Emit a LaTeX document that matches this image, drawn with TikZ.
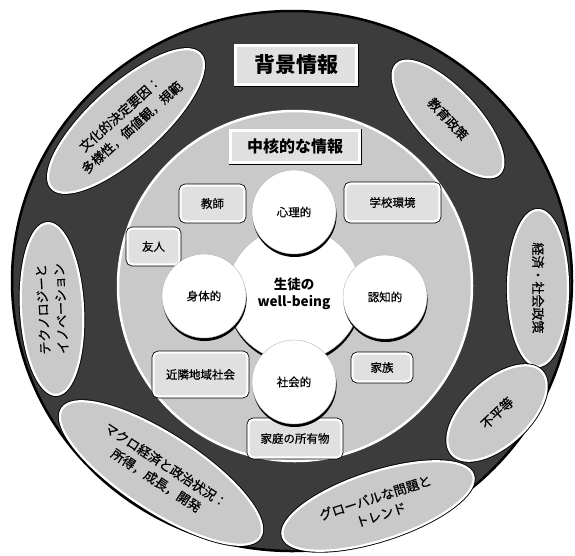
\documentclass[tikz,border=0pt]{standalone}
\usepackage{fontspec}
\setmainfont{Noto Sans CJK JP}
\newfontfamily\medfont{Noto Sans CJK JP}[FakeBold=0.6]
\usetikzlibrary{shapes.geometric,shadows}
\definecolor{ringdark}{HTML}{3C3C3C}
\definecolor{lightg}{HTML}{C9C9C9}
\definecolor{boxg}{HTML}{E0E0E0}
\begin{document}
\begin{tikzpicture}[x=1pt,y=-1pt,
  oval/.style={ellipse, fill=lightg, draw=white, line width=2.2pt,
    preaction={draw=black, line width=4pt}, inner sep=0pt, align=center,
    font=\medfont\fontsize{13}{18}\selectfont},
  labelbox/.style={rectangle, rounded corners=5pt, fill=boxg, draw=white, line width=2.2pt,
    preaction={draw=black, line width=3.8pt}, inner sep=0pt, align=center,
    font=\medfont\fontsize{11.5}{14}\selectfont},
  titlebox/.style={rectangle, fill=boxg, draw=white, line width=2.4pt,
    preaction={draw=black, line width=4pt}, inner sep=0pt, align=center,
    font=\bfseries},
  ball/.style={circle, fill=white, draw=gray!60, line width=0.4pt, inner sep=0pt,
    drop shadow={shadow xshift=0.6pt, shadow yshift=-3pt, fill=black, opacity=1},
    font=\medfont\fontsize{11.5}{14}\selectfont, align=center},
]
\useasboundingbox[fill=white] (0,0) rectangle (575,555);

% rings
\draw[fill=ringdark, draw=black, line width=2.5pt] (292,281) ellipse [x radius=280, y radius=270];
\draw[fill=lightg, draw=white, line width=2.5pt] (295,286) ellipse [x radius=177, y radius=175];

% outer ellipses
\node[oval, minimum width=200pt, minimum height=70pt, rotate=42] (cult) at (126,121)
  {文化的決定要因：\\多様性，価値観，規範};
\node[oval, minimum width=150pt, minimum height=58pt, rotate=-47] (edu) at (448,119) {教育政策};
\node[oval, minimum width=156pt, minimum height=60pt, rotate=-90] (econ) at (538,288) {経済・社会政策};
\node[oval, minimum width=122pt, minimum height=64pt, rotate=43] (ineq) at (497,413) {不平等};
\node[oval, minimum width=200pt, minimum height=68pt, rotate=18] (glob) at (378,506)
  {グローバルな問題と\\トレンド};
\node[oval, minimum width=236pt, minimum height=76pt, rotate=-33] (macro) at (161,473)
  {マクロ経済と政治状況：\\所得，成長，開発};
\node[oval, minimum width=172pt, minimum height=62pt, rotate=93] (tech) at (52,309)
  {テクノロジーと\\イノベーション};

% titles
\node[titlebox, minimum width=121pt, minimum height=39pt, font=\bfseries\fontsize{21}{24}\selectfont]
  (bg) at (296,65) {背景情報};
\node[titlebox, minimum width=129pt, minimum height=32pt, font=\bfseries\fontsize{16}{19}\selectfont]
  (core) at (295,146.5) {中核的な情報};

% boxes
\node[labelbox, minimum width=64pt, minimum height=36pt] (teach) at (212.5,203.5) {教師};
\node[labelbox, minimum width=52pt, minimum height=36pt] (friend) at (153.5,246.5) {友人};
\node[labelbox, minimum width=94pt, minimum height=38pt] (school) at (392.5,202.5) {学校環境};
\node[labelbox, minimum width=94pt, minimum height=44pt] (neigh) at (200.5,374.5) {近隣地域社会};
\node[labelbox, minimum width=59pt, minimum height=28pt] (family) at (382,367.5) {家族};
\node[labelbox, minimum width=93pt, minimum height=38pt] (home) at (295,438.5) {家庭の所有物};

% circles
\node[ball, minimum size=134pt, font=\bfseries\fontsize{13.5}{17}\selectfont] (wb) at (294,294)
  {生徒の\\well-being};
\node[ball, minimum size=84pt] (psy) at (294,212) {心理的};
\node[ball, minimum size=84pt] (phys) at (204,296) {身体的};
\node[ball, minimum size=84pt] (cog) at (385,297) {認知的};
\node[ball, minimum size=84pt] (soc) at (294,382) {社会的};
\end{tikzpicture}
\end{document}
